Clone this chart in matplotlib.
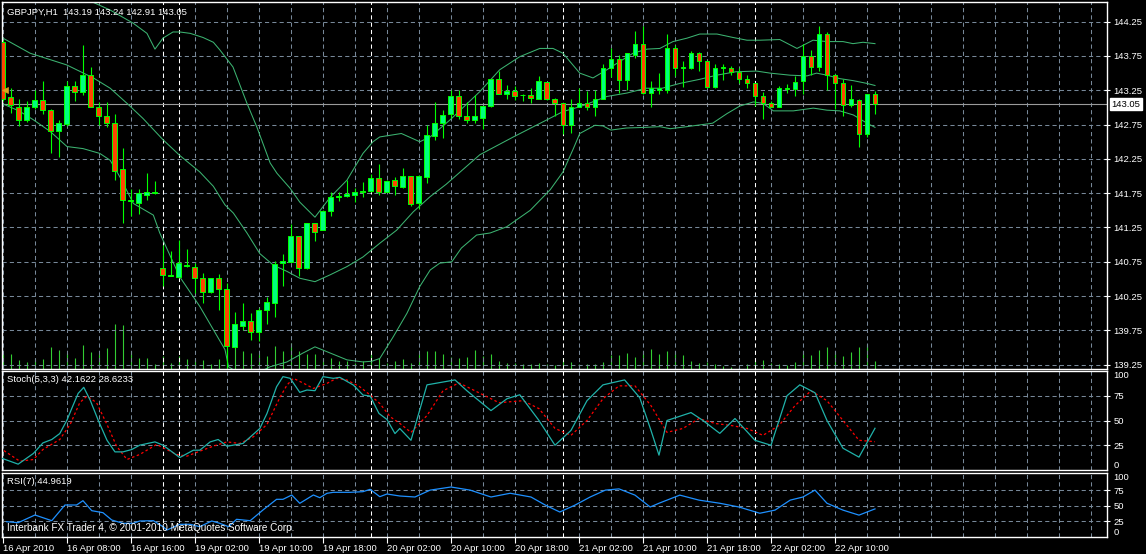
import matplotlib
matplotlib.use("Agg")
import matplotlib.pyplot as plt
import matplotlib.transforms as mtransforms

plt.rcParams['font.family'] = ['Liberation Sans', 'DejaVu Sans']

# GBPJPY H1, bar 0 = 16 Apr 2010 00:00
opens = [143.96, 143.15, 143.01, 142.82, 143.00, 143.11, 142.96, 142.65, 142.76, 143.31,
         143.23, 143.48, 143.00, 142.88, 142.78, 142.10, 141.63, 141.61, 141.73, 141.75,
         140.66, 140.55, 140.53, 140.69, 140.68, 140.51, 140.31, 140.51, 140.36, 139.51,
         139.82, 139.89, 139.72, 140.04, 140.15, 140.73, 140.75, 141.12, 140.66, 141.31,
         141.21, 141.49, 141.70, 141.71, 141.73, 141.77, 141.78, 141.97, 141.76, 141.94,
         141.84, 142.00, 141.60, 141.98, 142.58, 142.78, 142.90, 143.16, 142.87, 142.81,
         142.84, 143.02, 143.41, 143.19, 143.24, 143.18, 143.18, 143.12, 143.37, 143.12,
         143.06, 142.75, 143.00, 143.06, 143.00, 143.12, 143.58, 143.70, 143.40, 143.77,
         143.92, 143.21, 143.26, 143.26, 143.86, 143.58, 143.58, 143.80, 143.68, 143.30,
         143.58, 143.57, 143.51, 143.41, 143.35, 143.16, 143.07, 143.00, 143.27, 143.27,
         143.38, 143.75, 143.59, 144.07, 143.47, 143.35, 143.04, 143.11, 142.62, 143.19]
highs = [143.99, 143.29, 143.13, 143.09, 143.26, 143.38, 142.97, 142.82, 143.39, 143.38,
         143.91, 143.59, 143.08, 143.08, 142.91, 142.41, 141.81, 141.81, 142.04, 141.93,
         141.00, 140.91, 141.07, 140.93, 140.73, 140.58, 140.52, 140.57, 140.44, 140.02,
         140.15, 140.01, 140.07, 140.23, 140.76, 140.86, 141.30, 141.13, 141.32, 141.31,
         141.50, 141.76, 141.76, 141.94, 141.82, 141.91, 142.03, 142.18, 141.94, 141.99,
         142.11, 142.00, 142.01, 142.74, 143.08, 142.96, 143.26, 143.26, 143.08, 143.18,
         143.02, 143.42, 143.53, 143.33, 143.31, 143.20, 143.29, 143.46, 143.37, 143.14,
         143.06, 143.12, 143.28, 143.24, 143.26, 143.64, 143.86, 143.76, 143.79, 144.12,
         144.18, 143.39, 143.50, 144.07, 143.91, 143.67, 143.82, 143.81, 143.68, 143.64,
         143.64, 143.60, 143.58, 143.47, 143.35, 143.22, 143.09, 143.31, 143.34, 143.46,
         143.93, 143.84, 144.19, 144.10, 143.49, 143.42, 143.33, 143.13, 143.20, 143.24]
lows = [143.10, 142.92, 142.73, 142.79, 142.98, 142.91, 142.34, 142.28, 142.73, 143.09,
        143.18, 143.00, 142.75, 142.72, 141.94, 141.31, 141.42, 141.45, 141.65, 141.74,
        140.40, 140.54, 140.52, 140.68, 140.29, 140.15, 140.30, 140.04, 139.20, 139.50,
        139.76, 139.61, 139.60, 139.85, 139.95, 140.39, 140.75, 140.54, 140.64, 141.06,
        141.21, 141.42, 141.63, 141.70, 141.62, 141.70, 141.76, 141.73, 141.76, 141.73,
        141.82, 141.57, 141.52, 141.90, 142.52, 142.55, 142.84, 142.83, 142.78, 142.78,
        142.68, 143.01, 143.20, 143.12, 143.11, 143.10, 143.06, 143.12, 143.11, 142.87,
        142.62, 142.63, 143.00, 142.96, 142.87, 143.12, 143.45, 143.21, 143.25, 143.72,
        143.19, 143.01, 143.20, 143.21, 143.46, 143.30, 143.56, 143.53, 143.28, 143.29,
        143.40, 143.47, 143.36, 143.29, 143.02, 142.83, 143.00, 143.00, 143.21, 143.16,
        143.20, 143.47, 143.53, 143.26, 142.97, 142.87, 143.00, 142.43, 142.57, 142.91]
closes = [143.13, 143.03, 142.81, 143.00, 143.11, 142.96, 142.65, 142.78, 143.31, 143.23,
          143.48, 143.00, 142.88, 142.78, 142.08, 141.65, 141.65, 141.75, 141.76, 141.76,
          140.56, 140.55, 140.73, 140.71, 140.51, 140.31, 140.51, 140.36, 139.52, 139.84,
          139.89, 139.73, 140.05, 140.16, 140.72, 140.76, 141.12, 140.66, 141.31, 141.18,
          141.49, 141.70, 141.70, 141.74, 141.76, 141.78, 141.97, 141.77, 141.93, 141.85,
          142.00, 141.59, 142.00, 142.60, 142.78, 142.89, 143.16, 142.88, 142.82, 142.87,
          143.02, 143.41, 143.20, 143.24, 143.17, 143.18, 143.14, 143.39, 143.12, 143.06,
          142.75, 143.00, 143.07, 143.00, 143.13, 143.58, 143.71, 143.40, 143.79, 143.93,
          143.21, 143.28, 143.29, 143.86, 143.58, 143.58, 143.80, 143.68, 143.30, 143.58,
          143.58, 143.51, 143.41, 143.35, 143.16, 143.07, 143.00, 143.29, 143.29, 143.37,
          143.75, 143.59, 144.07, 143.47, 143.36, 143.04, 143.12, 142.62, 143.19, 143.05]
volumes = [44, 46, 26, 22, 29, 29, 66, 56, 49, 34, 72, 52, 46, 62, 136, 132, 54, 34, 32, 16,
           39, 19, 39, 29, 29, 26, 16, 29, 59, 69, 54, 49, 44, 39, 69, 54, 79, 54, 44, 44,
           34, 34, 24, 24, 19, 24, 44, 34, 19, 24, 29, 19, 44, 54, 54, 46, 36, 32, 36, 56,
           39, 46, 24, 19, 19, 16, 14, 19, 14, 11, 32, 22, 14, 14, 14, 21, 42, 42, 49, 36,
           54, 59, 44, 54, 54, 42, 24, 19, 21, 14, 9, 6, 9, 14, 24, 27, 17, 14, 12, 21,
           54, 42, 57, 66, 54, 39, 51, 66, 76, 24]

# Bollinger bands (bar, price)
upper_x = [0, 5, 9, 11.5, 13.4, 16.25, 18, 19, 20, 21.25, 22.1, 23.4, 25, 26.3, 27.1, 28.75,
           30.5, 31.75, 33.4, 34.25, 35.9, 37.1, 39, 40.9, 43, 45, 46.25, 47.1, 49.8, 52.1,
           53.4, 55.9, 59.6, 62.1, 64.6, 67.1, 68.75, 70, 72.1, 73.75, 75.5, 77.1, 78.75,
           80.5, 82.1, 83.75, 85.5, 87.1, 89.25, 91.25, 93, 94.6, 97.1, 99.25, 101.25, 103,
           105, 106.25, 107.5, 109]
upper_y = [145.05, 144.85, 144.65, 144.52, 144.42, 144.23, 144.08, 143.85, 144.01, 144.10,
           144.10, 144.08, 144.02, 143.95, 143.84, 143.59, 143.06, 142.71, 142.19, 142.04,
           141.82, 141.62, 141.40, 141.69, 141.94, 142.33, 142.50, 142.57, 142.62, 142.50,
           142.57, 142.82, 143.23, 143.55, 143.74, 143.86, 143.86, 143.79, 143.50, 143.43,
           143.55, 143.67, 143.79, 143.85, 143.86, 143.96, 144.01, 144.07, 144.07, 144.02,
           143.98, 143.98, 143.99, 143.86, 143.98, 143.96, 143.96, 143.93, 143.95, 143.93]
middle_x = [0, 3.4, 7.96, 11.3, 13.4, 15.5, 17.5, 20, 22.1, 24.6, 26.3, 27.75, 28.8, 30.5,
            32.1, 33.8, 35.5, 37.1, 39, 40.9, 43, 45, 47.1, 49.2, 51.3, 53.4, 55.4, 59.6,
            63.8, 68, 70, 72.1, 75.5, 78, 80.4, 82.4, 84.6, 87.1, 89.2, 91.6, 94.2, 95.9,
            98.4, 100.5, 101.7, 103, 104.6, 106.3, 108, 109]
middle_y = [144.01, 143.79, 143.62, 143.43, 143.28, 143.06, 142.84, 142.53, 142.30, 142.06,
            141.85, 141.58, 141.46, 141.17, 140.87, 140.70, 140.61, 140.51, 140.46, 140.56,
            140.68, 140.82, 141.02, 141.21, 141.48, 141.70, 141.88, 142.31, 142.57, 142.82,
            142.94, 143.01, 143.16, 143.21, 143.28, 143.28, 143.35, 143.41, 143.47, 143.52,
            143.53, 143.50, 143.47, 143.46, 143.50, 143.47, 143.42, 143.39, 143.35, 143.32]
lower_x = [0, 2, 3.8, 5.9, 8, 10, 12.1, 13.4, 14.6, 16.3, 18.8, 19.6, 22.1, 24.6, 26.3,
           27.75, 28.2, 30.5, 33.4, 35.5, 37.5, 39, 40.9, 43, 45, 46.1, 47.1, 48.8, 50.5,
           52.1, 53.4, 54.6, 56.1, 57.3, 59.2, 60.9, 62.96, 65.9, 68.4, 70, 71.3, 72.1, 74,
           75, 76, 77.9, 80.4, 82.1, 83.4, 85.5, 88.7, 90.5, 92.1, 93.8, 95, 96.3, 98.8,
           101.3, 103, 104.6, 106.3, 108, 109]
lower_y = [143.05, 142.95, 142.82, 142.65, 142.43, 142.40, 142.33, 142.23, 141.99, 141.60,
           141.43, 141.17, 140.53, 140.10, 139.76, 139.47, 139.22, 139.05, 139.22, 139.29,
           139.42, 139.51, 139.42, 139.32, 139.29, 139.30, 139.34, 139.66, 140.00, 140.39,
           140.63, 140.73, 140.75, 140.95, 141.14, 141.17, 141.26, 141.50, 141.80, 142.06,
           142.40, 142.62, 142.74, 142.73, 142.67, 142.70, 142.71, 142.72, 142.69, 142.72,
           142.77, 142.91, 143.02, 143.08, 143.06, 142.95, 142.95, 142.99, 142.96, 142.95,
           142.89, 142.77, 142.71]

# Stochastic(5,3,3)
stoch_k_x = [-0.4, 1.9, 3.8, 5, 6.1, 7.1, 8, 8.6, 9.4, 10.1, 10.9, 11.9, 13, 14, 15, 16.1,
             17.1, 19, 20, 22.1, 23.8, 24.6, 25.9, 26.9, 28, 30, 32.1, 33, 34.2, 35, 35.9,
             37.1, 38, 39, 40, 41.3, 42.1, 43.8, 45, 45.9, 47, 48, 49, 49.6, 51, 53, 56.5,
             58, 61, 63, 64.6, 67, 69, 71, 73, 75, 77.7, 79.6, 81, 82, 83, 86, 87.5, 89.6,
             91.5, 94, 96, 98, 99.6, 101.5, 103, 105, 107, 109]
stoch_k_y = [12.6, 5.9, 16.7, 27.4, 30.8, 36.8, 50.4, 62.2, 77.4, 83.5, 70.6, 50.4, 30.1,
             18.3, 18.3, 20.7, 25.1, 28.4, 25.1, 12.6, 20, 20, 28.4, 30.8, 24.0, 26.8, 41.9,
             57.1, 84.1, 94.3, 92.6, 78.4, 80.8, 80.1, 94.3, 92.6, 93.6, 85.8, 75.7, 74.7,
             57.1, 51.0, 36.8, 41.9, 30, 86, 91, 80, 60, 72, 76, 50, 25, 40, 70, 86, 91, 73,
             40, 15, 50, 58, 50, 37, 52, 30, 25, 75, 86, 78, 50, 22, 13, 42.16]
stoch_d_x = [-0.4, 2.1, 3.8, 5, 7.1, 8.4, 9.6, 10.5, 11.7, 13, 14.2, 15.5, 17.1, 19.2, 21.7,
             23, 24.6, 26.3, 28, 29.6, 31.3, 33, 34.6, 35.5, 36.3, 37.6, 38.8, 40.5, 41.7,
             43, 44.6, 45.9, 47.1, 48.4, 49.6, 51, 53, 55, 57, 59, 62, 65, 67, 69, 71, 73,
             75, 77, 79, 81, 83, 85, 87, 89, 91, 93, 95, 97, 99, 101, 103, 105, 107, 109]
stoch_d_y = [22.4, 8.9, 10.6, 20.7, 30.8, 46, 68, 74.7, 68, 46, 24.1, 10.6, 15.7, 25.8, 15.7,
             14, 19, 24.1, 28.4, 26.8, 33.5, 46, 73, 85.8, 92.6, 87.5, 82.4, 87.5, 92.6, 90.9,
             84.1, 75.7, 67.2, 53.8, 47.1, 38, 55, 80, 88, 80, 68, 70, 62, 42, 35, 50, 72, 85,
             85, 65, 38, 42, 52, 47, 45, 42, 35, 45, 65, 80, 70, 50, 30, 28.62]

# RSI(7)
rsi_x = [0.46, 1.9, 4, 6.1, 7.75, 9.2, 10, 11.1, 12.5, 13.6, 15, 16.3, 17.1, 18.8, 20, 20.5,
         22.1, 23.4, 24.6, 26.1, 27.1, 28.2, 29.2, 30.9, 32.5, 34.2, 35, 36.1, 37.1, 38.8,
         39.6, 40.5, 41.3, 43.4, 45, 45.9, 47.1, 48, 49.6, 51.5, 53.4, 56, 58.4, 61, 63.4,
         66, 67.8, 69.6, 71.5, 73.4, 75.3, 77, 79, 80.9, 82, 84.6, 87, 89.6, 92, 94.6, 96.5,
         98.4, 100, 101.5, 103, 105, 107, 109]
rsi_y = [24.5, 22.9, 35.2, 26.1, 51.2, 51.2, 58.1, 42.1, 38.9, 27.2, 21.9, 21.9, 25.6, 26.1,
         16.5, 11.2, 20.3, 20.3, 16.5, 25.6, 21.9, 16.5, 28.3, 26.1, 43.2, 60.3, 60.3, 67.2,
         53.9, 67.2, 62.9, 69.9, 71.5, 71.5, 72.5, 76.3, 64.5, 68.8, 65.6, 64, 75, 80, 75, 64,
         70, 64, 51, 40, 51, 64, 75, 77, 67, 48, 54, 67, 59, 54, 48, 38, 43, 59, 64, 75, 54,
         43, 35, 44.96]

price_levels = [139.25, 139.75, 140.25, 140.75, 141.25, 141.75, 142.25, 142.75, 143.25,
                143.75, 144.25]
last_price = 143.05
arrow_price = 143.25
time_ticks = list(range(0, 105, 8))
time_labels = ['16 Apr 2010', '16 Apr 08:00', '16 Apr 16:00', '19 Apr 02:00', '19 Apr 10:00',
               '19 Apr 18:00', '20 Apr 02:00', '20 Apr 10:00', '20 Apr 18:00', '21 Apr 02:00',
               '21 Apr 10:00', '21 Apr 18:00', '22 Apr 02:00', '22 Apr 10:00']
day_breaks = [20, 22, 46, 70, 94]

# --- layout (pixels of a 1146x554 canvas) ---
W, H = 1146, 554
fig = plt.figure(figsize=(W / 100, H / 100), dpi=100, facecolor='black')
GRID = '#778899'
DASH = (0, (4, 3))
FS = 6.8


def pane(top, bottom, left=2, right=1107):
    ax = fig.add_axes([left / W, 1 - bottom / H, (right - left) / W, (bottom - top) / H])
    ax.set_facecolor('black')
    for s in ax.spines.values():
        s.set_color('white')
        s.set_linewidth(1)
    ax.set_xlim(-0.12, 138.0)
    ax.tick_params(axis='x', bottom=False, labelbottom=False)
    ax.yaxis.tick_right()
    ax.tick_params(axis='y', colors='white', labelsize=FS, direction='inout', length=5,
                   width=0.8, pad=2)
    for b in range(0, 139, 4):
        ax.axvline(b, color=GRID, ls=DASH, lw=0.75, zorder=0)
    for b in day_breaks:
        ax.axvline(b, color='white', ls=DASH, lw=0.75, zorder=0.5)
    return ax


def corner_labels(ax, top_y, bottom_y):
    tr = mtransforms.blended_transform_factory(ax.transAxes, ax.transData)
    ax.text(1.006, top_y, '100', transform=tr, color='white', fontsize=FS, va='top', ha='left')
    ax.text(1.006, bottom_y, '0', transform=tr, color='white', fontsize=FS, va='bottom',
            ha='left')


# volumes sit behind the price pane at the bottom of it
axv = fig.add_axes([2 / W, 1 - 369 / H, 1105 / W, 367 / H])
axv.set_facecolor('black')
axv.set_xlim(-0.12, 138.0)
axv.set_ylim(0, 1101)
axv.axis('off')
bars = list(range(len(closes)))
axv.vlines(bars, 0, volumes, color='#32cd32', lw=0.8)

# 1. Main price pane
ax = pane(2, 369)
ax.patch.set_visible(False)
ax.set_ylim(139.187, 144.537)
ax.set_yticks(price_levels)
ax.set_yticklabels(['%.2f' % p for p in price_levels])
for p in price_levels:
    ax.axhline(p, color=GRID, ls=DASH, lw=0.75, zorder=0)

band_c = '#3cb371'
ax.plot(upper_x, upper_y, color=band_c, lw=0.75, zorder=2)
ax.plot(middle_x, middle_y, color=band_c, lw=0.75, zorder=2)
ax.plot(lower_x, lower_y, color=band_c, lw=0.75, zorder=2)

ax.axhline(last_price, color='#9a9a9a', lw=0.8, zorder=1)

body_bottom = [min(o, c) for o, c in zip(opens, closes)]
body_height = [max(abs(c - o), 0.004) for o, c in zip(opens, closes)]
body_color = ['#00ff7f' if c >= o else '#ff4500' for o, c in zip(opens, closes)]
ax.vlines(bars, lows, highs, color='#00ff00', lw=0.8, zorder=3)
ax.bar(bars, body_height, bottom=body_bottom, width=0.62, color=body_color,
       edgecolor='#00ff00', linewidth=0.7, zorder=4)

ax.plot([0.3], [arrow_price], marker='<', ms=5, color='#daa520', mec='#daa520', mew=0.5,
        zorder=5, clip_on=False)

trp = mtransforms.blended_transform_factory(ax.transAxes, ax.transData)
ax.text(1.004, last_price, '%.2f' % last_price, transform=trp, color='black', fontsize=FS,
        ha='left', va='center',
        bbox=dict(facecolor='white', edgecolor='white', boxstyle='square,pad=0.15'))

# 2. Stochastic pane
ax2 = pane(371, 470)
ax2.set_ylim(0, 100)
ax2.set_yticks([25, 50, 75])
for lv in [25, 50, 75]:
    ax2.axhline(lv, color=GRID, ls=DASH, lw=0.75, zorder=0)
ax2.plot(stoch_k_x, stoch_k_y, color='#20b2aa', lw=0.9, zorder=3)
ax2.plot(stoch_d_x, stoch_d_y, color='red', lw=0.9, ls=(0, (2, 2)), zorder=2)
corner_labels(ax2, 100, 0)

# 3. RSI pane
ax3 = pane(473, 537)
ax3.set_ylim(0, 102.4)
ax3.set_yticks([25, 50, 75])
for lv in [25, 50, 75]:
    ax3.axhline(lv, color=GRID, ls=DASH, lw=0.75, zorder=0)
ax3.plot(rsi_x, rsi_y, color='#1e90ff', lw=0.9, zorder=3)
corner_labels(ax3, 102.4, 0)
ax3.set_xticks(time_ticks)
ax3.set_xticklabels(time_labels)
ax3.tick_params(axis='x', bottom=True, labelbottom=True, colors='white', labelsize=FS,
                direction='out', length=4, width=0.8, pad=1)
for lbl in ax3.get_xticklabels():
    lbl.set_ha('left')


# overlay texts
def ftext(x, y, s, fs=FS):
    fig.text(x / W, 1 - y / H, s, color='white', fontsize=fs, va='center', ha='left')


ftext(7, 12, 'GBPJPY,H1  143.19 143.24 142.91 143.05')
ftext(7, 380, 'Stoch(5,3,3) 42.1622 28.6233')
ftext(7, 482, 'RSI(7) 44.9619')
ftext(7, 528, 'Interbank FX Trader 4, \u00a9 2001-2010 MetaQuotes Software Corp.', fs=7.2)

fig.savefig('out.png', dpi=100, facecolor='black')
